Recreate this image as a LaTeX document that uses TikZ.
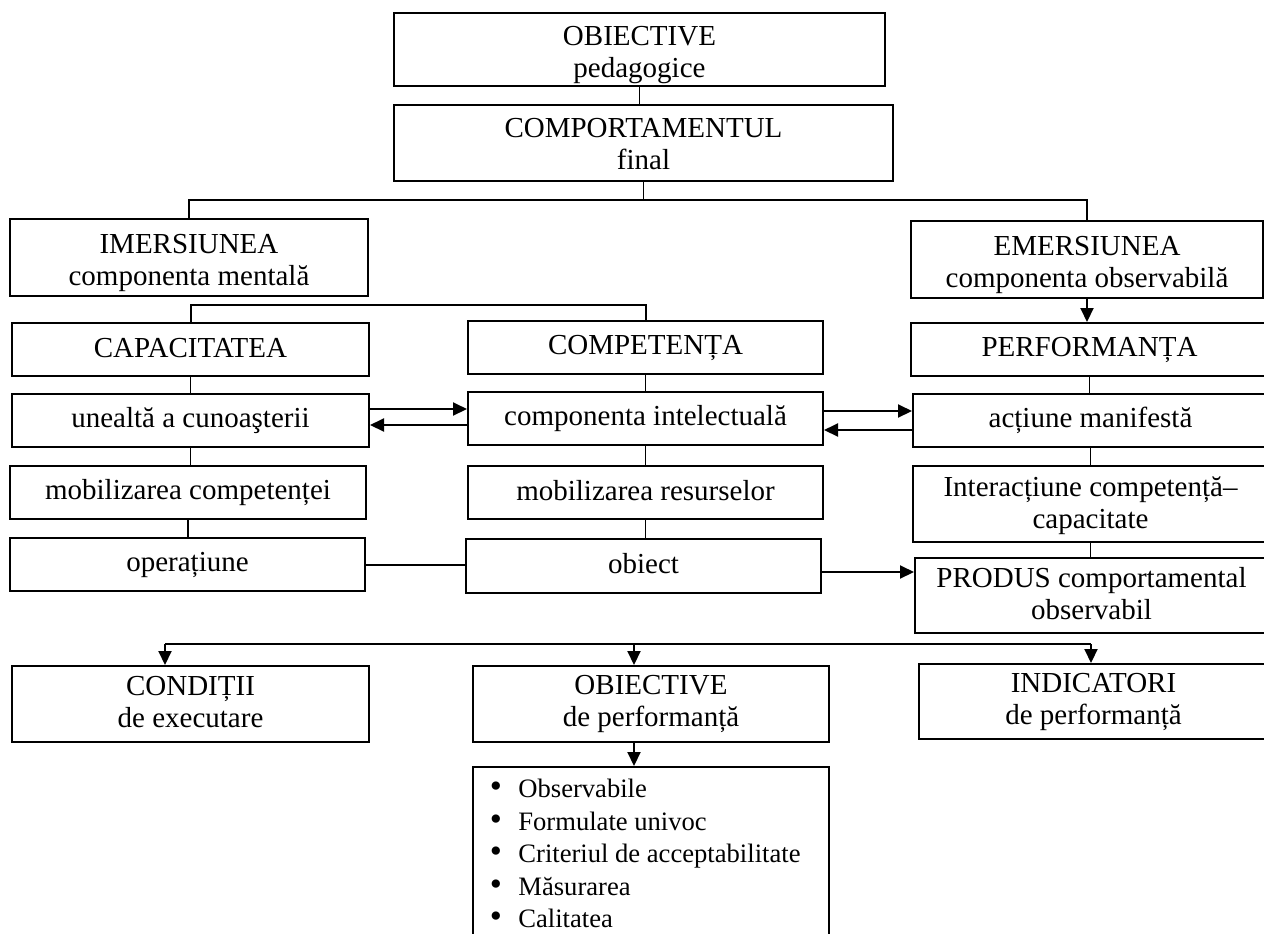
\documentclass[tikz,border=0pt]{standalone}
\usepackage{fontspec}
\setmainfont{Liberation Serif}
\usetikzlibrary{arrows.meta}
\newcommand{\bul}{\makebox[14.25pt][l]{\raisebox{-0.3pt}{\scalebox{1.3}{•}}}}
\newcommand{\myln}{\rule[-2.5pt]{0pt}{12.5pt}}
\newcommand{\mytop}[1]{\rule[-2.5pt]{0pt}{#1}}
\begin{document}
\begin{tikzpicture}[x=0.5pt,y=-0.5pt,
  box/.style={draw, line width=1pt, inner sep=0pt, align=center,
    font=\fontsize{14.5pt}{16pt}\selectfont},
  item/.style={anchor=base west, inner sep=0pt, font=\fontsize{13.3pt}{16pt}\selectfont},
  conn/.style={line width=0.6pt},
  brk/.style={line width=1pt},
  arr/.style={line width=1pt, -{Triangle[length=7pt,width=6.5pt]}}]
\useasboundingbox (0,0) rectangle (1264,933);
\clip (0,0) rectangle (1264,933);

% boxes
\node[box, minimum width=245.5pt, minimum height=36.5pt] (ob) at (639.5,49.5) {\mytop{17.5pt}OBIECTIVE\\\myln pedagogice};
\node[box, minimum width=249.5pt, minimum height=38pt] (comp) at (643.5,143) {\mytop{15.5pt}COMPORTAMENTUL\\\myln final};
\node[box, minimum width=179pt, minimum height=38.5pt] (imer) at (189,257.5) {\mytop{17.5pt}IMERSIUNEA\\\myln componenta mentală};
\node[box, minimum width=176pt, minimum height=38.5pt] (emer) at (1087,259.5) {\mytop{17.5pt}EMERSIUNEA\\\myln componenta observabilă};
\node[box, minimum width=178.5pt, minimum height=26.5pt] (cap) at (190.5,349.5) {\myln CAPACITATEA};
\node[box, minimum width=177.5pt, minimum height=26.5pt] (compet) at (645.5,347.5) {\myln COMPETENȚA};
\node[box, minimum width=178.5pt, minimum height=26.5pt] (perf) at (1089.5,349.5) {\myln PERFORMANȚA};
\node[box, minimum width=178.5pt, minimum height=26.5pt] (unealta) at (190.5,420.5) {\myln unealtă a cunoaşterii};
\node[box, minimum width=177.5pt, minimum height=26.5pt] (compint) at (645.5,418.5) {\myln componenta intelectuală};
\node[box, minimum width=177.5pt, minimum height=26.5pt] (actiune) at (1090.5,420.5) {\myln acțiune manifestă};
\node[box, minimum width=178pt, minimum height=26.5pt] (mobcomp) at (188,492.5) {\myln mobilizarea competenței};
\node[box, minimum width=177.5pt, minimum height=26.5pt] (mobres) at (645.5,492.5) {\myln mobilizarea resurselor};
\node[box, minimum width=177.5pt, minimum height=38pt] (interact) at (1090.5,504) {\mytop{14pt}Interacțiune competență–\\\myln capacitate};
\node[box, minimum width=177.5pt, minimum height=26.5pt] (oper) at (187.5,564.5) {\myln operațiune};
\node[box, minimum width=177.5pt, minimum height=27pt] (obiect) at (643.5,566) {\myln obiect};
\node[box, minimum width=176.5pt, minimum height=37.5pt] (produs) at (1091.5,595.5) {\myln PRODUS comportamental\\\myln observabil};
\node[box, minimum width=178.5pt, minimum height=38pt] (cond) at (190.5,704) {\myln CONDIȚII\\\myln de executare};
\node[box, minimum width=178pt, minimum height=38pt] (obperf) at (651,704) {\myln OBIECTIVE\\\myln de performanță};
\node[box, minimum width=174.5pt, minimum height=37.5pt] (indic) at (1093.5,701.5) {\myln INDICATORI\\\myln de performanță};
\node[box, minimum width=178pt, minimum height=89pt] (list) at (651,856) {};

% list items
\node[item] (li1) at (489.5,797) {\bul Observabile};
\node[item] (li2) at (489.5,830) {\bul Formulate univoc};
\node[item] (li3) at (489.5,862) {\bul Criteriul de acceptabilitate};
\node[item] (li4) at (489.5,895) {\bul Măsurarea};
\node[item] (li5) at (489.5,927) {\bul Calitatea};

% top connectors
\draw[conn] (ob.south) -- (ob.south |- comp.north);
\coordinate (b1) at (641,200);
\draw[conn] (comp.south) -- (comp.south |- b1);
\draw[brk] (imer.north) |- (emer.north |- b1) -- (emer.north);

\coordinate (b2) at (186,305);
\draw[brk] (cap.north) |- (compet.north |- b2) -- (compet.north);
\draw[arr] (emer.south) -- (emer.south |- perf.north);

% vertical chains
\draw[conn] (cap.south) -- (unealta.north);
\draw[conn] (compet.south) -- (compint.north);
\draw[conn] (perf.south) -- (perf.south |- actiune.north);
\draw[conn] (unealta.south) -- (unealta.south |- mobcomp.north);
\draw[conn] (compint.south) -- (compint.south |- mobres.north);
\draw[conn] (actiune.south) -- (interact.north);
\draw[conn] (mobcomp.south) -- (mobcomp.south |- oper.north);
\draw[conn] (mobres.south) -- (mobres.south |- obiect.north);
\draw[conn] (interact.south) -- (interact.south |- produs.north);

% horizontal arrows
\draw[arr] ([yshift=5.75pt]unealta.east) -- ([yshift=5.75pt]unealta.east -| compint.west);
\draw[arr] ([yshift=-3.25pt]compint.west) -- ([yshift=-3.25pt]compint.west -| unealta.east);
\draw[arr] ([yshift=3.75pt]compint.east) -- ([yshift=3.75pt]compint.east -| actiune.west);
\draw[arr] ([yshift=-4.75pt]actiune.west) -- ([yshift=-4.75pt]actiune.west -| compint.east);
\draw[brk] (oper.east) -- (oper.east -| obiect.west);
\draw[arr] ([yshift=-3pt]obiect.east) -- ([yshift=-3pt]obiect.east -| produs.west);

% bottom bracket
\coordinate (c1) at (165,644);
\coordinate (c2) at (634,644);
\coordinate (c3) at (1091,644);
\draw[brk] (c1) -- (c3);
\draw[arr] (c1) -- (c1 |- cond.north);
\draw[arr] (c2) -- (c2 |- obperf.north);
\draw[arr] (c3) -- (c3 |- indic.north);
\draw[arr] (c2 |- obperf.south) -- (c2 |- list.north);
\end{tikzpicture}
\end{document}
